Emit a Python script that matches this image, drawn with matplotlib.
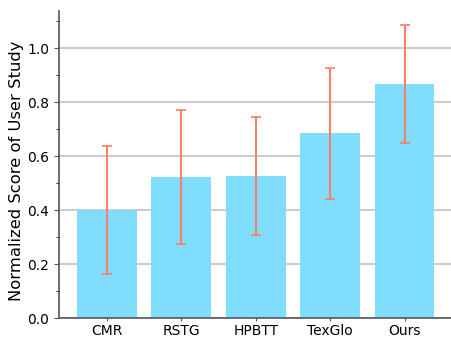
import numpy as np
import matplotlib.pyplot as plt

methods = ['CMR', 'RSTG', 'HPBTT', 'TexGlo', 'Ours']
scores = [0.400, 0.522, 0.526, 0.685, 0.867]
errs = [0.236, 0.248, 0.219, 0.243, 0.219]

fig = plt.figure(figsize=(4.51, 3.37), dpi=100)
ax = fig.add_axes([0.131, 0.056, 0.872, 0.911])

x = np.arange(len(methods))
ax.bar(x, scores, width=0.8, color='#80ddfd', zorder=2)
ax.errorbar(x, scores, yerr=errs, fmt='none', ecolor='#ff7b62',
            elinewidth=1.4, capsize=3.5, capthick=1.2, zorder=3)

ax.set_xticks(x)
ax.set_xticklabels(methods, fontsize=10)
ax.set_ylim(0, 1.137)
ax.set_yticks([0.0, 0.2, 0.4, 0.6, 0.8, 1.0])
ax.set_yticks(np.arange(0.1, 1.15, 0.2), minor=True)
ax.tick_params(axis='y', labelsize=10)
ax.tick_params(axis='x', length=2.5, pad=1.5)
ax.set_ylabel('Normalized Score of User Study', fontsize=11.8)
ax.yaxis.set_label_coords(-0.09, 0.48)
ax.yaxis.grid(True, color='#cccccc', linewidth=1.5, zorder=0)
ax.set_axisbelow(True)

for s in ['top', 'right']:
    ax.spines[s].set_visible(False)
for s in ['left', 'bottom']:
    ax.spines[s].set_color('#555555')
    ax.spines[s].set_linewidth(1.2)
ax.tick_params(colors='#555555', labelcolor='black')

fig.savefig('out.png', dpi=100)
